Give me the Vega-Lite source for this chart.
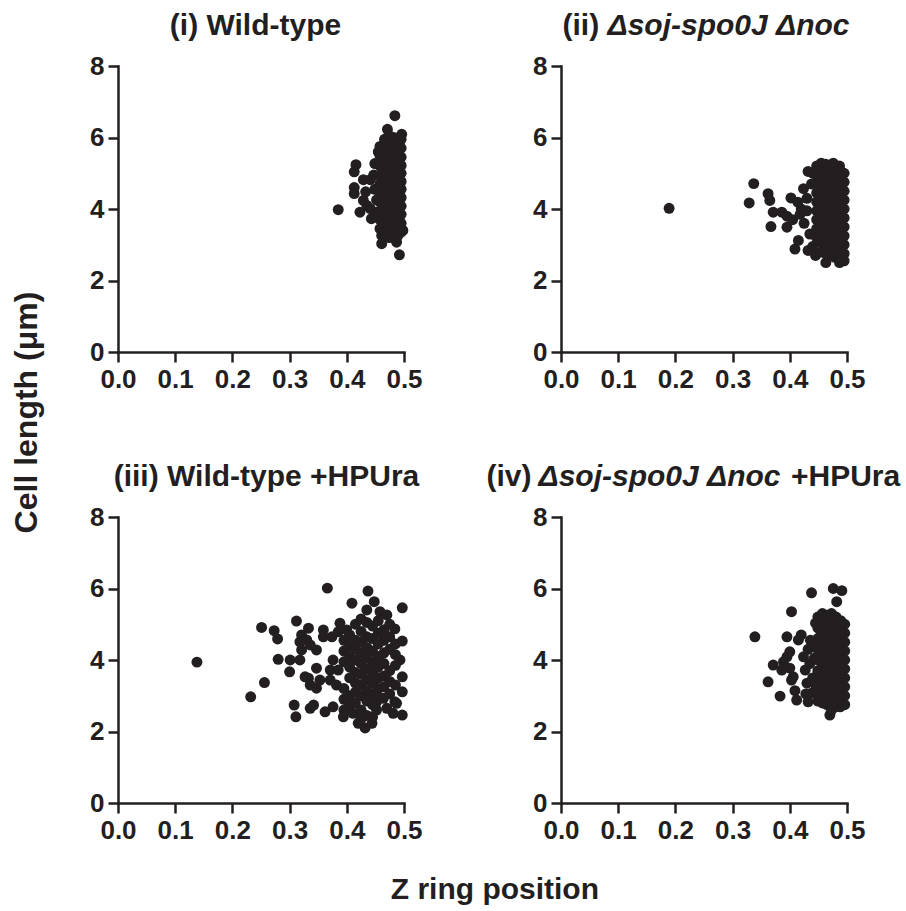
{
"$schema":"https://vega.github.io/schema/vega-lite/v6.json",
"background":"white",
"padding":{"left":10,"top":10,"right":5,"bottom":5},
"config":{
 "font":"Liberation Sans",
 "view":{"stroke":null},
 "axis":{"grid":false,"domainColor":"#231f20","domainWidth":2.5,"domainCap":"square","tickColor":"#231f20","tickWidth":2.5,"tickSize":10,"labelFont":"Liberation Sans","labelFontWeight":"bold","labelFontSize":26,"labelColor":"#231f20","labelPadding":4,"labelFlush":false,"labelOverlap":false,"titleFont":"Liberation Sans","titleFontSize":30,"titleFontWeight":"bold","titleColor":"#231f20","titleAngle":0,"titleBaseline":"alphabetic"},
 "title":{"font":"Liberation Sans","fontSize":30,"fontWeight":"bold","color":"#231f20"}
},
"datasets":{
"wt":[
{"x":0.385,"y":3.98},{"x":0.484,"y":6.61},{"x":0.471,"y":6.23},{"x":0.496,"y":6.09},{"x":0.416,"y":5.24},{"x":0.413,"y":5.04},{"x":0.449,"y":5.27},{"x":0.429,"y":4.82},{"x":0.441,"y":4.82},{"x":0.413,"y":4.6},{"x":0.413,"y":4.43},{"x":0.429,"y":4.24},{"x":0.423,"y":3.91},{"x":0.441,"y":4.01},{"x":0.443,"y":3.73},{"x":0.461,"y":3.68},{"x":0.461,"y":3.26},{"x":0.461,"y":3.03},{"x":0.487,"y":3.07},{"x":0.492,"y":2.72},{"x":0.498,"y":3.4},
{"x":0.449,"y":4.55},{"x":0.452,"y":4.25},{"x":0.447,"y":4.95},{"x":0.455,"y":5.6},{"x":0.435,"y":4.1},{"x":0.451,"y":3.9},{"x":0.433,"y":4.48},
{"x":0.458,"y":5.75},{"x":0.458,"y":5.5},{"x":0.458,"y":5.2},{"x":0.458,"y":4.95},{"x":0.458,"y":4.7},{"x":0.458,"y":4.45},{"x":0.458,"y":4.2},{"x":0.458,"y":3.95},{"x":0.458,"y":3.7},{"x":0.458,"y":3.45},
{"x":0.466,"y":5.95},{"x":0.466,"y":5.62},{"x":0.466,"y":5.38},{"x":0.466,"y":5.05},{"x":0.466,"y":4.82},{"x":0.466,"y":4.58},{"x":0.466,"y":4.33},{"x":0.466,"y":4.08},{"x":0.466,"y":3.82},{"x":0.466,"y":3.58},{"x":0.466,"y":3.35},
{"x":0.474,"y":6.05},{"x":0.474,"y":5.8},{"x":0.474,"y":5.55},{"x":0.474,"y":5.3},{"x":0.474,"y":5.12},{"x":0.474,"y":4.88},{"x":0.474,"y":4.64},{"x":0.474,"y":4.4},{"x":0.474,"y":4.15},{"x":0.474,"y":3.9},{"x":0.474,"y":3.66},{"x":0.474,"y":3.42},{"x":0.474,"y":3.2},
{"x":0.482,"y":6.0},{"x":0.482,"y":5.72},{"x":0.482,"y":5.46},{"x":0.482,"y":5.22},{"x":0.482,"y":4.98},{"x":0.482,"y":4.75},{"x":0.482,"y":4.5},{"x":0.482,"y":4.28},{"x":0.482,"y":4.02},{"x":0.482,"y":3.78},{"x":0.482,"y":3.55},{"x":0.482,"y":3.3},
{"x":0.489,"y":5.88},{"x":0.489,"y":5.63},{"x":0.489,"y":5.38},{"x":0.489,"y":5.15},{"x":0.489,"y":4.92},{"x":0.489,"y":4.68},{"x":0.489,"y":4.45},{"x":0.489,"y":4.2},{"x":0.489,"y":3.96},{"x":0.489,"y":3.72},{"x":0.489,"y":3.5},{"x":0.489,"y":3.25},
{"x":0.495,"y":5.95},{"x":0.495,"y":5.7},{"x":0.495,"y":5.45},{"x":0.495,"y":5.22},{"x":0.495,"y":5.0},{"x":0.495,"y":4.77},{"x":0.495,"y":4.55},{"x":0.495,"y":4.32},{"x":0.495,"y":4.08},{"x":0.495,"y":3.85},{"x":0.495,"y":3.6},{"x":0.495,"y":3.35},
{"x":0.47,"y":5.68},{"x":0.478,"y":4.5},{"x":0.486,"y":4.1},{"x":0.462,"y":4.9},{"x":0.47,"y":4.0},{"x":0.493,"y":4.6},{"x":0.485,"y":5.1},{"x":0.468,"y":3.75}
],
"dsn":[
{"x":0.189,"y":4.02},{"x":0.337,"y":4.71},{"x":0.329,"y":4.17},{"x":0.362,"y":4.43},{"x":0.365,"y":4.24},{"x":0.402,"y":4.31},{"x":0.371,"y":3.91},{"x":0.386,"y":3.91},{"x":0.367,"y":3.51},{"x":0.395,"y":3.49},{"x":0.415,"y":3.12},{"x":0.409,"y":2.88},{"x":0.432,"y":2.84},{"x":0.424,"y":4.57},{"x":0.414,"y":4.19},
{"x":0.395,"y":3.8},{"x":0.405,"y":3.7},{"x":0.418,"y":3.85},{"x":0.425,"y":3.6},{"x":0.43,"y":4.3},{"x":0.42,"y":4.0},{"x":0.435,"y":3.3},{"x":0.43,"y":3.95},{"x":0.438,"y":4.7},{"x":0.44,"y":5.0},{"x":0.432,"y":5.05},{"x":0.44,"y":2.95},{"x":0.445,"y":2.7},
{"x":0.447,"y":5.2},{"x":0.447,"y":4.95},{"x":0.447,"y":4.7},{"x":0.447,"y":4.45},{"x":0.447,"y":4.2},{"x":0.447,"y":3.95},{"x":0.447,"y":3.7},{"x":0.447,"y":3.45},{"x":0.447,"y":3.2},
{"x":0.455,"y":5.28},{"x":0.455,"y":5.05},{"x":0.455,"y":4.8},{"x":0.455,"y":4.55},{"x":0.455,"y":4.3},{"x":0.455,"y":4.05},{"x":0.455,"y":3.8},{"x":0.455,"y":3.55},{"x":0.455,"y":3.3},{"x":0.455,"y":3.05},{"x":0.455,"y":2.8},
{"x":0.463,"y":5.25},{"x":0.463,"y":5.0},{"x":0.463,"y":4.75},{"x":0.463,"y":4.5},{"x":0.463,"y":4.25},{"x":0.463,"y":4.0},{"x":0.463,"y":3.75},{"x":0.463,"y":3.5},{"x":0.463,"y":3.25},{"x":0.463,"y":3.0},{"x":0.463,"y":2.75},{"x":0.463,"y":2.5},
{"x":0.471,"y":5.22},{"x":0.471,"y":4.98},{"x":0.471,"y":4.72},{"x":0.471,"y":4.48},{"x":0.471,"y":4.22},{"x":0.471,"y":3.98},{"x":0.471,"y":3.72},{"x":0.471,"y":3.48},{"x":0.471,"y":3.22},{"x":0.471,"y":2.98},{"x":0.471,"y":2.72},
{"x":0.479,"y":5.15},{"x":0.479,"y":4.9},{"x":0.479,"y":4.65},{"x":0.479,"y":4.4},{"x":0.479,"y":4.15},{"x":0.479,"y":3.9},{"x":0.479,"y":3.65},{"x":0.479,"y":3.4},{"x":0.479,"y":3.15},{"x":0.479,"y":2.9},{"x":0.479,"y":2.65},
{"x":0.487,"y":5.2},{"x":0.487,"y":4.95},{"x":0.487,"y":4.7},{"x":0.487,"y":4.45},{"x":0.487,"y":4.2},{"x":0.487,"y":3.95},{"x":0.487,"y":3.7},{"x":0.487,"y":3.45},{"x":0.487,"y":3.2},{"x":0.487,"y":2.95},{"x":0.487,"y":2.7},{"x":0.487,"y":2.5},
{"x":0.495,"y":5.0},{"x":0.495,"y":4.75},{"x":0.495,"y":4.5},{"x":0.495,"y":4.25},{"x":0.495,"y":4.0},{"x":0.495,"y":3.75},{"x":0.495,"y":3.5},{"x":0.495,"y":3.25},{"x":0.495,"y":3.0},{"x":0.495,"y":2.75},{"x":0.495,"y":2.55},
{"x":0.451,"y":4.1},{"x":0.459,"y":3.6},{"x":0.467,"y":4.85},{"x":0.475,"y":3.3},{"x":0.483,"y":4.3},{"x":0.491,"y":3.1},{"x":0.46,"y":4.4},{"x":0.476,"y":5.28}
],
"wth":[
{"x":0.138,"y":3.94},{"x":0.232,"y":2.97},{"x":0.256,"y":3.37},{"x":0.251,"y":4.91},{"x":0.273,"y":4.82},{"x":0.279,"y":4.59},{"x":0.312,"y":5.09},{"x":0.28,"y":4.02},{"x":0.301,"y":4.0},{"x":0.318,"y":4.0},{"x":0.3,"y":3.67},{"x":0.308,"y":2.74},{"x":0.311,"y":2.41},{"x":0.333,"y":4.89},{"x":0.321,"y":4.7},{"x":0.318,"y":4.51},{"x":0.33,"y":4.56},{"x":0.321,"y":4.28},{"x":0.336,"y":4.42},{"x":0.347,"y":4.28},{"x":0.359,"y":4.84},{"x":0.359,"y":4.65},{"x":0.374,"y":4.65},{"x":0.366,"y":6.01},{"x":0.409,"y":5.59},{"x":0.437,"y":5.93},{"x":0.448,"y":5.63},{"x":0.435,"y":5.4},{"x":0.458,"y":5.35},{"x":0.47,"y":5.26},{"x":0.497,"y":5.46},{"x":0.484,"y":4.87},{"x":0.497,"y":4.53},{"x":0.493,"y":4.0},{"x":0.497,"y":3.53},{"x":0.497,"y":3.11},{"x":0.484,"y":2.83},{"x":0.497,"y":2.46},{"x":0.481,"y":2.51},{"x":0.432,"y":2.1},{"x":0.42,"y":2.23},{"x":0.444,"y":2.23},{"x":0.336,"y":2.65},{"x":0.342,"y":2.74},{"x":0.362,"y":2.55},{"x":0.376,"y":2.69},{"x":0.394,"y":2.41},{"x":0.411,"y":2.51},{"x":0.452,"y":2.6},{"x":0.47,"y":2.65},{"x":0.452,"y":2.83},{"x":0.441,"y":3.02},{"x":0.464,"y":2.93},{"x":0.487,"y":2.79},{"x":0.333,"y":3.49},{"x":0.347,"y":3.77},{"x":0.353,"y":3.44},{"x":0.327,"y":3.53},{"x":0.336,"y":3.3},{"x":0.347,"y":3.21},{"x":0.371,"y":3.72},{"x":0.385,"y":3.72},{"x":0.376,"y":4.0},{"x":0.371,"y":3.44},{"x":0.382,"y":3.3},{"x":0.388,"y":5.03},{"x":0.4,"y":4.84},{"x":0.385,"y":4.79},
{"x":0.395,"y":4.55},{"x":0.395,"y":4.25},{"x":0.395,"y":3.95},{"x":0.395,"y":3.2},{"x":0.395,"y":2.9},{"x":0.395,"y":2.6},
{"x":0.405,"y":4.7},{"x":0.405,"y":4.4},{"x":0.405,"y":4.1},{"x":0.405,"y":3.8},{"x":0.405,"y":3.5},{"x":0.405,"y":3.0},{"x":0.405,"y":2.75},
{"x":0.415,"y":5.0},{"x":0.415,"y":4.55},{"x":0.415,"y":4.3},{"x":0.415,"y":4.0},{"x":0.415,"y":3.65},{"x":0.415,"y":3.35},{"x":0.415,"y":3.1},{"x":0.415,"y":2.8},
{"x":0.425,"y":5.15},{"x":0.425,"y":4.8},{"x":0.425,"y":4.5},{"x":0.425,"y":4.2},{"x":0.425,"y":3.9},{"x":0.425,"y":3.6},{"x":0.425,"y":3.3},{"x":0.425,"y":3.0},{"x":0.425,"y":2.6},{"x":0.425,"y":2.35},
{"x":0.435,"y":5.05},{"x":0.435,"y":4.65},{"x":0.435,"y":4.35},{"x":0.435,"y":4.05},{"x":0.435,"y":3.75},{"x":0.435,"y":3.45},{"x":0.435,"y":3.15},{"x":0.435,"y":2.85},{"x":0.435,"y":2.45},
{"x":0.445,"y":4.95},{"x":0.445,"y":4.6},{"x":0.445,"y":4.25},{"x":0.445,"y":3.95},{"x":0.445,"y":3.65},{"x":0.445,"y":3.35},{"x":0.445,"y":3.05},{"x":0.445,"y":2.75},{"x":0.445,"y":2.4},
{"x":0.455,"y":5.1},{"x":0.455,"y":4.75},{"x":0.455,"y":4.45},{"x":0.455,"y":4.1},{"x":0.455,"y":3.8},{"x":0.455,"y":3.5},{"x":0.455,"y":3.2},{"x":0.455,"y":2.95},
{"x":0.465,"y":4.85},{"x":0.465,"y":4.55},{"x":0.465,"y":4.2},{"x":0.465,"y":3.9},{"x":0.465,"y":3.55},{"x":0.465,"y":3.25},
{"x":0.475,"y":5.0},{"x":0.475,"y":4.65},{"x":0.475,"y":4.3},{"x":0.475,"y":3.7},{"x":0.475,"y":3.4},{"x":0.475,"y":3.05},
{"x":0.485,"y":4.45},{"x":0.485,"y":4.15},{"x":0.485,"y":3.85},{"x":0.485,"y":3.3}
],
"dsnh":[
{"x":0.339,"y":4.65},{"x":0.403,"y":5.35},{"x":0.438,"y":5.88},{"x":0.476,"y":6.0},{"x":0.491,"y":5.94},{"x":0.482,"y":5.63},{"x":0.395,"y":4.65},{"x":0.415,"y":4.56},{"x":0.4,"y":4.23},{"x":0.395,"y":4.09},{"x":0.389,"y":3.95},{"x":0.371,"y":3.86},{"x":0.386,"y":3.72},{"x":0.4,"y":3.77},{"x":0.406,"y":3.53},{"x":0.403,"y":3.44},{"x":0.362,"y":3.39},{"x":0.383,"y":2.99},{"x":0.409,"y":3.14},{"x":0.412,"y":2.88},{"x":0.432,"y":2.83},{"x":0.424,"y":4.09},{"x":0.427,"y":3.72},{"x":0.43,"y":3.35},{"x":0.438,"y":3.07},{"x":0.445,"y":5.03},{"x":0.453,"y":4.65},{"x":0.441,"y":4.37},{"x":0.47,"y":2.46},{"x":0.488,"y":2.69},
{"x":0.42,"y":4.7},{"x":0.432,"y":4.3},{"x":0.435,"y":3.9},{"x":0.44,"y":3.5},{"x":0.428,"y":3.05},{"x":0.445,"y":3.3},{"x":0.443,"y":4.05},{"x":0.436,"y":4.55},
{"x":0.449,"y":5.2},{"x":0.449,"y":4.9},{"x":0.449,"y":4.6},{"x":0.449,"y":4.3},{"x":0.449,"y":4.0},{"x":0.449,"y":3.7},{"x":0.449,"y":3.4},{"x":0.449,"y":3.1},{"x":0.449,"y":2.85},
{"x":0.457,"y":5.3},{"x":0.457,"y":5.05},{"x":0.457,"y":4.8},{"x":0.457,"y":4.55},{"x":0.457,"y":4.3},{"x":0.457,"y":4.05},{"x":0.457,"y":3.8},{"x":0.457,"y":3.55},{"x":0.457,"y":3.3},{"x":0.457,"y":3.05},{"x":0.457,"y":2.8},
{"x":0.465,"y":5.25},{"x":0.465,"y":5.0},{"x":0.465,"y":4.75},{"x":0.465,"y":4.5},{"x":0.465,"y":4.25},{"x":0.465,"y":4.0},{"x":0.465,"y":3.75},{"x":0.465,"y":3.5},{"x":0.465,"y":3.25},{"x":0.465,"y":3.0},{"x":0.465,"y":2.75},
{"x":0.473,"y":5.3},{"x":0.473,"y":5.05},{"x":0.473,"y":4.8},{"x":0.473,"y":4.55},{"x":0.473,"y":4.3},{"x":0.473,"y":4.05},{"x":0.473,"y":3.8},{"x":0.473,"y":3.55},{"x":0.473,"y":3.3},{"x":0.473,"y":3.05},{"x":0.473,"y":2.8},{"x":0.473,"y":2.6},
{"x":0.481,"y":5.2},{"x":0.481,"y":4.95},{"x":0.481,"y":4.7},{"x":0.481,"y":4.45},{"x":0.481,"y":4.2},{"x":0.481,"y":3.95},{"x":0.481,"y":3.7},{"x":0.481,"y":3.45},{"x":0.481,"y":3.2},{"x":0.481,"y":2.95},{"x":0.481,"y":2.7},
{"x":0.489,"y":5.1},{"x":0.489,"y":4.85},{"x":0.489,"y":4.6},{"x":0.489,"y":4.35},{"x":0.489,"y":4.1},{"x":0.489,"y":3.85},{"x":0.489,"y":3.6},{"x":0.489,"y":3.35},{"x":0.489,"y":3.1},{"x":0.489,"y":2.85},
{"x":0.496,"y":5.0},{"x":0.496,"y":4.75},{"x":0.496,"y":4.5},{"x":0.496,"y":4.25},{"x":0.496,"y":4.0},{"x":0.496,"y":3.75},{"x":0.496,"y":3.5},{"x":0.496,"y":3.25},{"x":0.496,"y":3.0},{"x":0.496,"y":2.75}
]
},
"title":{"text":"Cell length (μm)","orient":"left","anchor":"middle","offset":46,"dx":45,"fontSize":32},
"hconcat":[{
 "title":{"text":"Z ring position","orient":"bottom","anchor":"middle","offset":32,"fontSize":30},
 "columns":2,
 "spacing":{"row":165,"column":157},
 "bounds":"flush",
 "concat":[
  {"width":286,"height":286,"data":{"name":"wt"},
   "mark":{"type":"circle","size":120,"color":"#231f20","opacity":1},
   "encoding":{
    "x":{"field":"x","type":"quantitative","scale":{"domain":[0,0.5],"nice":false},"axis":{"values":[0,0.1,0.2,0.3,0.4,0.5],"format":".1f","title":"(i) Wild-type","titleX":137,"titleY":-318,"titleAlign":"center"}},
    "y":{"field":"y","type":"quantitative","scale":{"domain":[0,8],"nice":false},"axis":{"values":[0,2,4,6,8],"title":null}}}},
  {"width":286,"height":286,"data":{"name":"dsn"},
   "mark":{"type":"circle","size":120,"color":"#231f20","opacity":1},
   "encoding":{
    "x":{"field":"x","type":"quantitative","scale":{"domain":[0,0.5],"nice":false},"axis":{"values":[0,0.1,0.2,0.3,0.4,0.5],"format":".1f","title":"Δsoj-spo0J Δnoc","titleFontStyle":"italic","titleX":46,"titleY":-318,"titleAlign":"left"}},
    "y":{"field":"y","type":"quantitative","scale":{"domain":[0,8],"nice":false},"axis":{"values":[0,2,4,6,8],"title":"(ii)","titleX":1,"titleY":-32,"titleAlign":"left","titleAngle":0}}}},
  {"width":286,"height":286,"data":{"name":"wth"},
   "mark":{"type":"circle","size":120,"color":"#231f20","opacity":1},
   "encoding":{
    "x":{"field":"x","type":"quantitative","scale":{"domain":[0,0.5],"nice":false},"axis":{"values":[0,0.1,0.2,0.3,0.4,0.5],"format":".1f","title":"(iii) Wild-type +HPUra","titleX":148,"titleY":-318,"titleAlign":"center"}},
    "y":{"field":"y","type":"quantitative","scale":{"domain":[0,8],"nice":false},"axis":{"values":[0,2,4,6,8],"title":null}}}},
  {"width":286,"height":286,"data":{"name":"dsnh"},
   "title":{"text":"+HPUra","anchor":"start","frame":"group","dx":230,"offset":0,"dy":31,"fontSize":30},
   "mark":{"type":"circle","size":120,"color":"#231f20","opacity":1},
   "encoding":{
    "x":{"field":"x","type":"quantitative","scale":{"domain":[0,0.5],"nice":false},"axis":{"values":[0,0.1,0.2,0.3,0.4,0.5],"format":".1f","title":"Δsoj-spo0J Δnoc","titleFontStyle":"italic","titleX":-23,"titleY":-318,"titleAlign":"left"}},
    "y":{"field":"y","type":"quantitative","scale":{"domain":[0,8],"nice":false},"axis":{"values":[0,2,4,6,8],"title":"(iv)","titleX":-75,"titleY":-32,"titleAlign":"left","titleAngle":0}}}}
 ]
}]
}
